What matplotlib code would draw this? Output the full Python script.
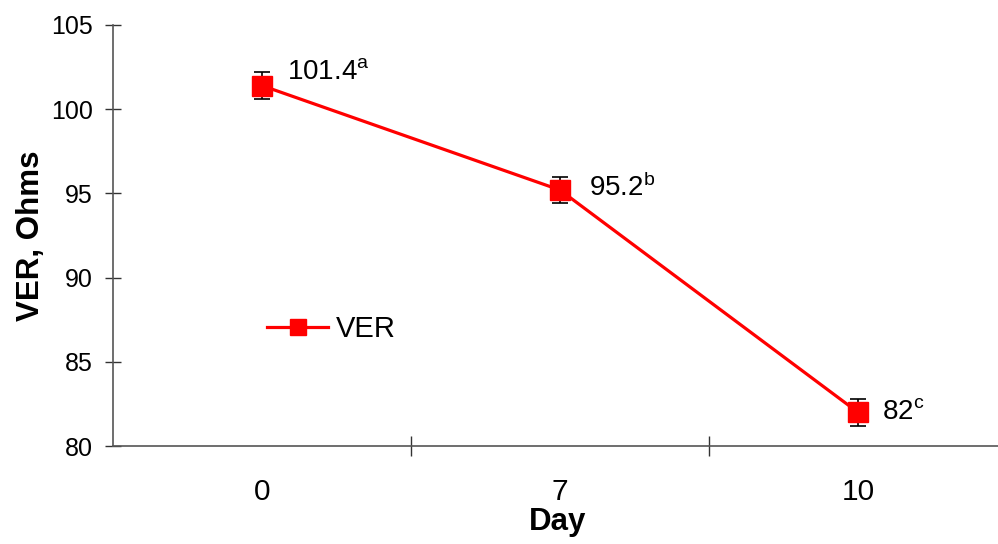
import matplotlib
matplotlib.use("Agg")
import matplotlib.pyplot as plt

plt.rcParams['font.family'] = ['Liberation Sans', 'DejaVu Sans']
plt.rcParams['mathtext.fontset'] = 'custom'
plt.rcParams['mathtext.rm'] = 'Liberation Sans'
plt.rcParams['mathtext.it'] = 'Liberation Sans'

days = ["0", "7", "10"]
ver = [101.4, 95.2, 82.0]
err = [0.8, 0.75, 0.8]
letters = ["a", "b", "c"]

W, H = 998, 544
fig = plt.figure(figsize=(W / 100, H / 100), dpi=100)
left, right, top, bottom = 113, 1007, 25, 446
ax = fig.add_axes([left / W, 1 - bottom / H, (right - left) / W, (bottom - top) / H])

x = list(range(len(days)))
ax.errorbar(x, ver, yerr=err, fmt='none', ecolor='black', elinewidth=1.2,
            capsize=6, capthick=1.2, zorder=2)
ax.plot(x, ver, color='#ff0000', lw=2.3, marker='s', markersize=14,
        markerfacecolor='#ff0000', markeredgecolor='#ff0000', label='VER', zorder=3)

offsets = [(18, 10), (21, 2), (17, 0)]
for xi, v, l, off in zip(x, ver, letters, offsets):
    lab = f"{v:g}" + r"$^{\mathregular{" + l + "}}$"
    ax.annotate(lab, (xi, v), xytext=off, textcoords='offset points',
                ha='left', va='center', fontsize=20)

ax.set_xlim(-0.5, 2.5)
ax.set_ylim(80, 105)
ax.set_yticks([80, 85, 90, 95, 100, 105])
ax.set_xticks(x)
ax.set_xticklabels(days)
ax.set_xticks([0.5, 1.5], minor=True)

for s in ['top', 'right']:
    ax.spines[s].set_visible(False)
for s in ['left', 'bottom']:
    ax.spines[s].set_color('#555555')
    ax.spines[s].set_linewidth(1.2)

ax.tick_params(axis='y', direction='inout', length=11, width=1, pad=9,
               labelsize=18, color='#333333')
ax.tick_params(axis='x', which='major', length=0, pad=23, labelsize=21.5)
ax.tick_params(axis='x', which='minor', direction='inout', length=14, width=1,
               color='#333333')

ax.legend(loc='center left', bbox_to_anchor=((267 - left) / (right - left), 1 - (329 - top) / (bottom - top)),
          frameon=False, fontsize=21, handlelength=2.1, handletextpad=0.25,
          borderpad=0, borderaxespad=0, markerscale=0.85)

fig.text(31 / W, 1 - 236 / H, "VER, Ohms", rotation=90, ha='center', va='center',
         fontsize=22.5, fontweight='bold')
fig.text(558 / W, 1 - 522 / H, "Day", ha='center', va='center',
         fontsize=22.5, fontweight='bold')

fig.savefig("out.png", dpi=100)
